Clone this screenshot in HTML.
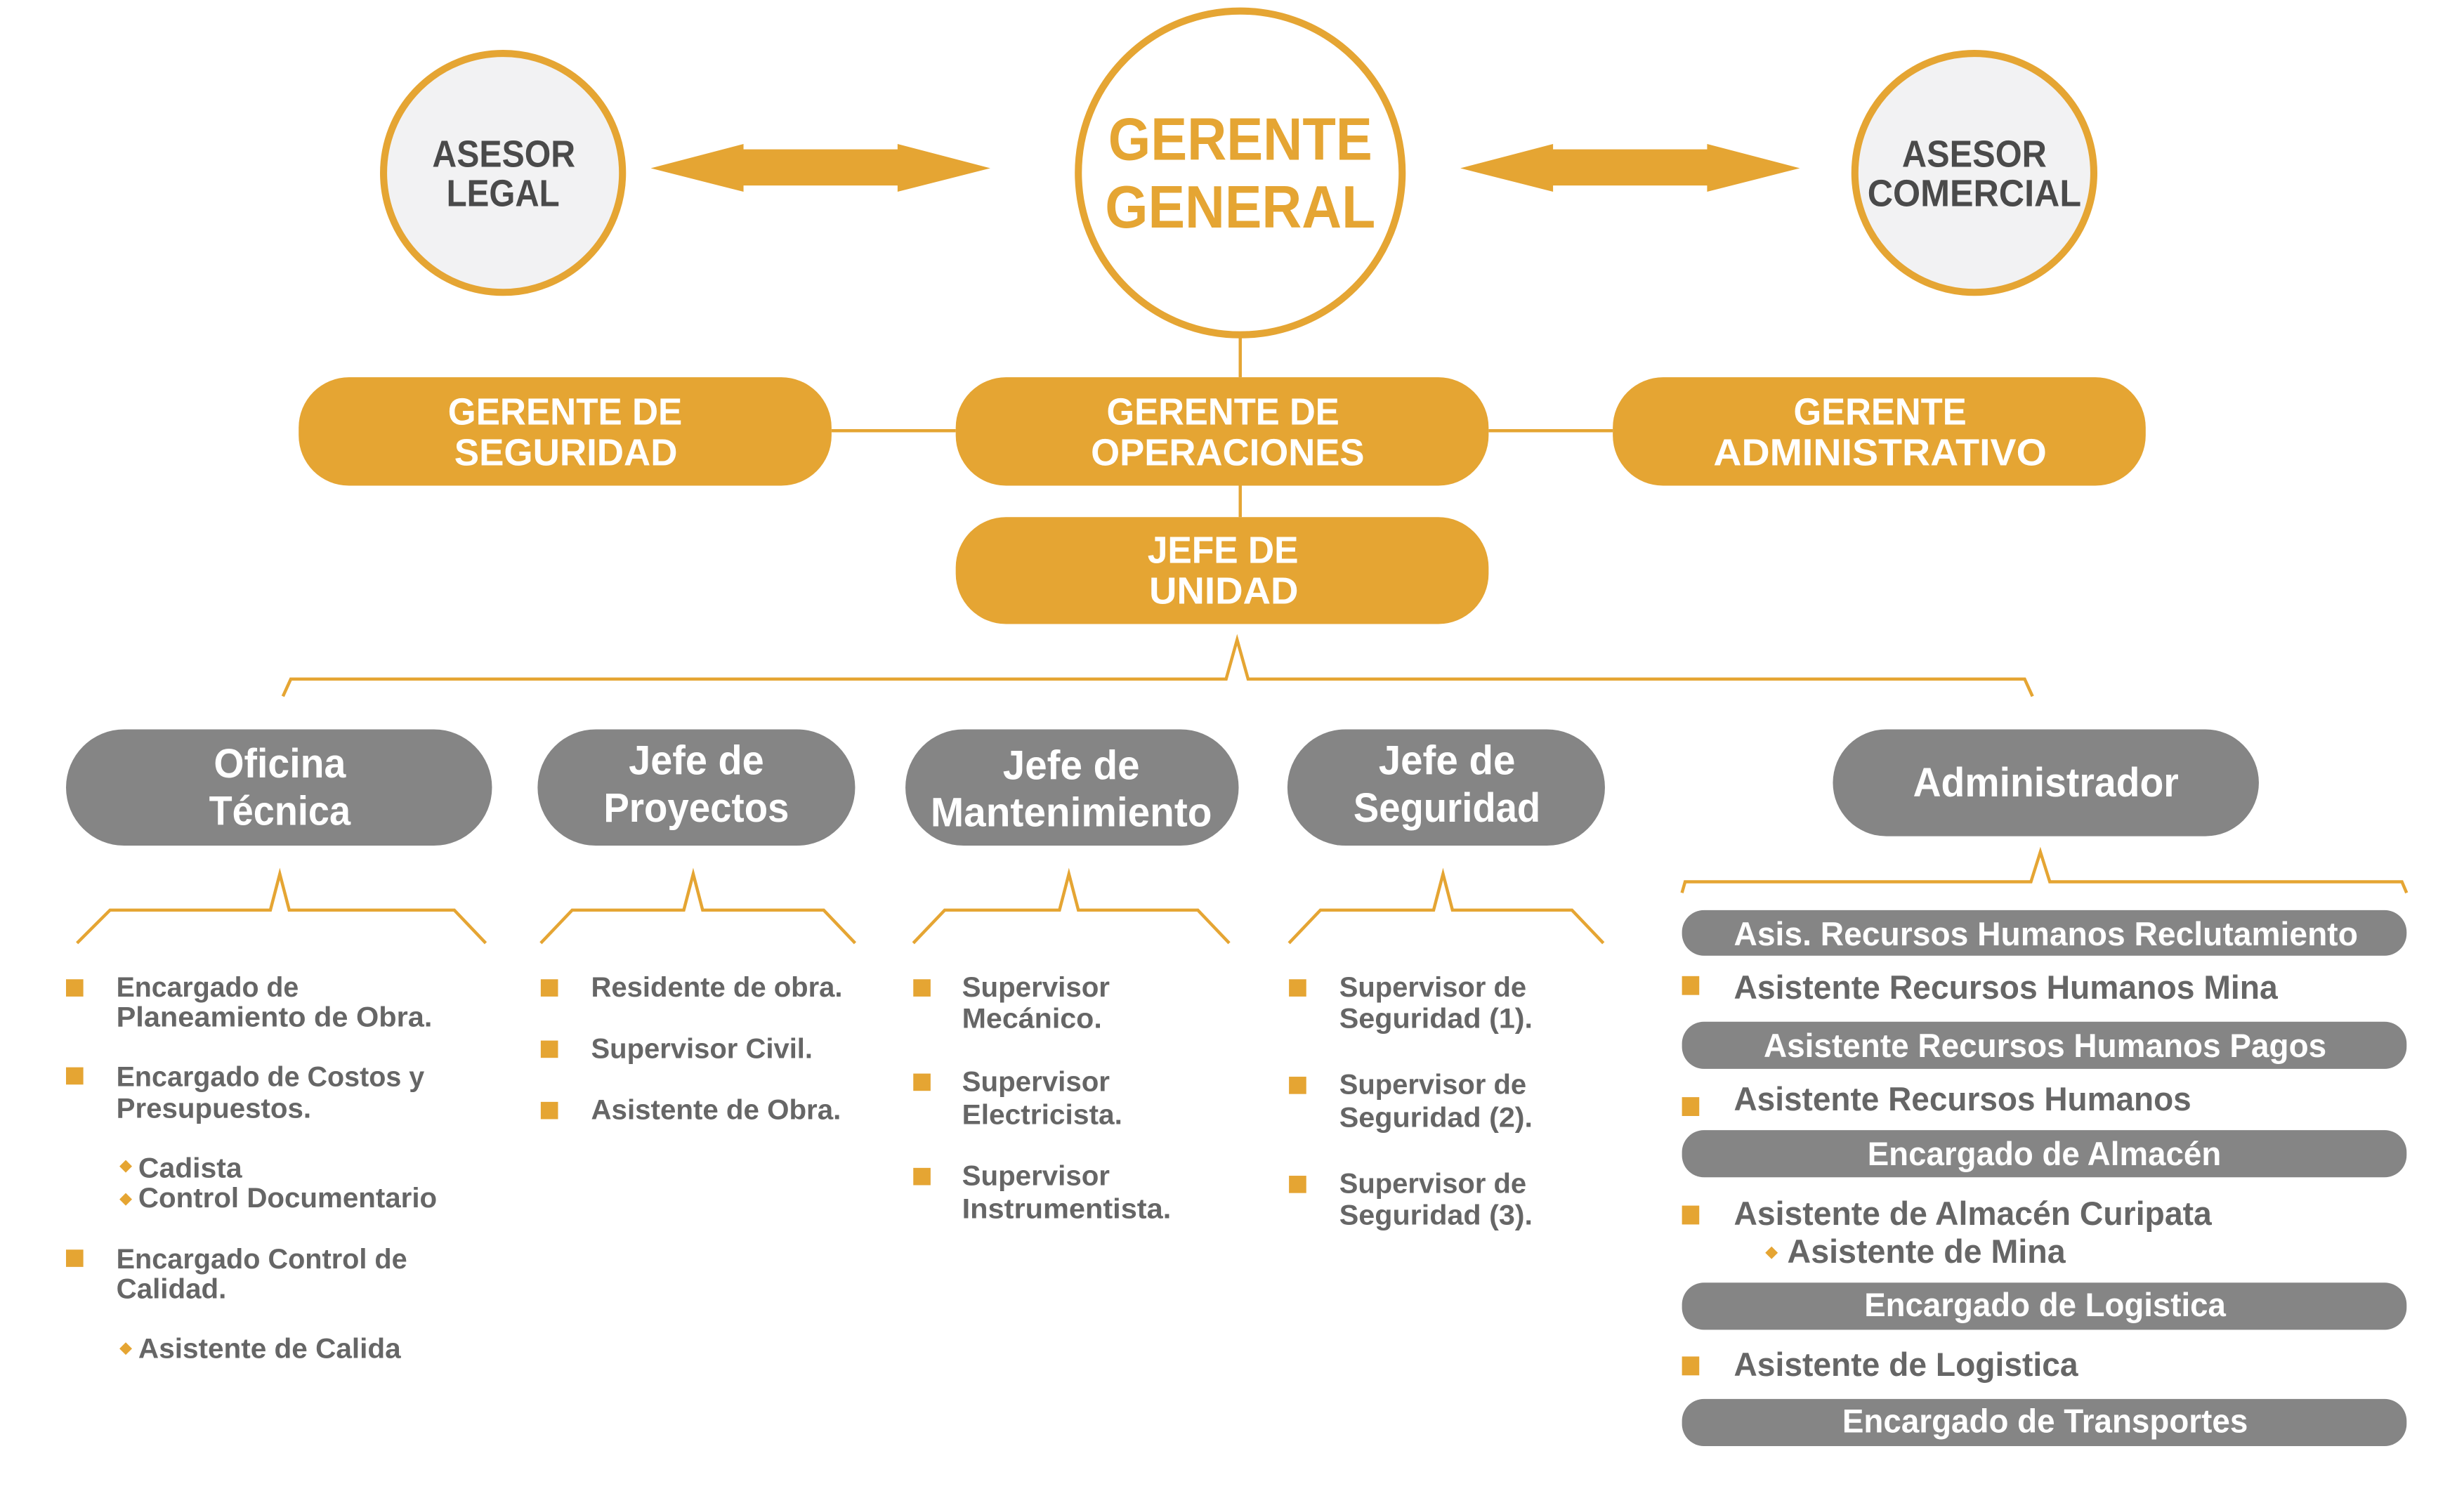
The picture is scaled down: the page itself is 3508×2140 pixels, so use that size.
<!DOCTYPE html>
<html><head><meta charset="utf-8"><style>
html,body{margin:0;padding:0;background:#fff;}
svg{display:block;}
text{font-family:"Liberation Sans",sans-serif;font-weight:bold;dominant-baseline:central;}
.w{fill:#fff;}
.g{fill:#666;}
.o{fill:#e5a533;}
.d{fill:#4a4a4a;}
</style></head><body>
<svg width="3508" height="2140" viewBox="0 0 1567.5 956.2" preserveAspectRatio="none" xmlns="http://www.w3.org/2000/svg">
<g stroke="#e5a533" stroke-width="2" fill="none">
<line x1="789" y1="215" x2="789" y2="240"/>
<line x1="789" y1="309" x2="789" y2="329"/>
<line x1="529" y1="274" x2="608" y2="274"/>
<line x1="947" y1="274" x2="1026" y2="274"/>
<polyline points="180,443 185,432 780,432 787,407 794,432 1288,432 1293,443"/>
<polyline points="49,600 70,579 172,579 178,556 184,579 289,579 309,600"/>
<polyline points="344,600 364,579 435,579 441,556 447,579 524,579 544,600"/>
<polyline points="581,600 601,579 674,579 680,556 686,579 762,579 782,600"/>
<polyline points="820,600 840,579 912,579 918,556 924,579 1000,579 1020,600"/>
<polyline points="1070,568 1072,561 1292,561 1298,542 1304,561 1528,561 1531,568"/>
</g>
<circle cx="320" cy="110" r="76" fill="#f2f2f3" stroke="#e5a533" stroke-width="4.5"/>
<circle cx="789" cy="110" r="103" fill="#fff" stroke="#e5a533" stroke-width="4.5"/>
<circle cx="1256" cy="110" r="76" fill="#f2f2f3" stroke="#e5a533" stroke-width="4.5"/>
<polygon class="o" points="414,107 473,91.6 473,95 571,95 571,91.6 630,107 571,122 571,118 473,118 473,122"/>
<polygon class="o" points="929,107 988,91.6 988,95 1086,95 1086,91.6 1145,107 1086,122 1086,118 988,118 988,122"/>
<text class="d" x="275" y="98" font-size="24" textLength="91" lengthAdjust="spacingAndGlyphs">ASESOR</text>
<text class="d" x="284" y="123" font-size="24" textLength="72" lengthAdjust="spacingAndGlyphs">LEGAL</text>
<text class="d" x="1210" y="98" font-size="24" textLength="92" lengthAdjust="spacingAndGlyphs">ASESOR</text>
<text class="d" x="1188" y="123" font-size="24" textLength="136" lengthAdjust="spacingAndGlyphs">COMERCIAL</text>
<text class="o" x="705" y="89" font-size="38" textLength="168" lengthAdjust="spacingAndGlyphs">GERENTE</text>
<text class="o" x="703" y="132" font-size="38" textLength="172" lengthAdjust="spacingAndGlyphs">GENERAL</text>
<g fill="#e5a533">
<rect x="190" y="240" width="339" height="69" rx="32"/>
<rect x="608" y="240" width="339" height="69" rx="32"/>
<rect x="1026" y="240" width="339" height="69" rx="32"/>
<rect x="608" y="329" width="339" height="68" rx="32"/>
</g>
<text class="w" x="285" y="262" font-size="24" textLength="149" lengthAdjust="spacingAndGlyphs">GERENTE DE</text>
<text class="w" x="289" y="288" font-size="24" textLength="142" lengthAdjust="spacingAndGlyphs">SEGURIDAD</text>
<text class="w" x="704" y="262" font-size="24" textLength="148" lengthAdjust="spacingAndGlyphs">GERENTE DE</text>
<text class="w" x="694" y="288" font-size="24" textLength="174" lengthAdjust="spacingAndGlyphs">OPERACIONES</text>
<text class="w" x="1141" y="262" font-size="24" textLength="110" lengthAdjust="spacingAndGlyphs">GERENTE</text>
<text class="w" x="1090" y="288" font-size="24" textLength="212" lengthAdjust="spacingAndGlyphs">ADMINISTRATIVO</text>
<text class="w" x="730" y="350" font-size="24" textLength="96" lengthAdjust="spacingAndGlyphs">JEFE DE</text>
<text class="w" x="731" y="376" font-size="24" textLength="95" lengthAdjust="spacingAndGlyphs">UNIDAD</text>
<g fill="#858585">
<rect x="42" y="464" width="271" height="74" rx="37"/>
<rect x="342" y="464" width="202" height="74" rx="37"/>
<rect x="576" y="464" width="212" height="74" rx="37"/>
<rect x="819" y="464" width="202" height="74" rx="37"/>
<rect x="1166" y="464" width="271" height="68" rx="34"/>
<rect x="1070" y="579" width="461" height="29" rx="14"/>
<rect x="1070" y="650" width="461" height="30" rx="14"/>
<rect x="1070" y="719" width="461" height="30" rx="14"/>
<rect x="1070" y="816" width="461" height="30" rx="14"/>
<rect x="1070" y="890" width="461" height="30" rx="14"/>
</g>
<text class="w" x="136" y="486" font-size="26" textLength="84" lengthAdjust="spacingAndGlyphs">Oficina</text>
<text class="w" x="133" y="516" font-size="26" textLength="90" lengthAdjust="spacingAndGlyphs">Técnica</text>
<text class="w" x="400" y="484" font-size="26" textLength="86" lengthAdjust="spacingAndGlyphs">Jefe de</text>
<text class="w" x="384" y="514" font-size="26" textLength="118" lengthAdjust="spacingAndGlyphs">Proyectos</text>
<text class="w" x="638" y="487" font-size="26" textLength="87" lengthAdjust="spacingAndGlyphs">Jefe de</text>
<text class="w" x="592" y="517" font-size="26" textLength="179" lengthAdjust="spacingAndGlyphs">Mantenimiento</text>
<text class="w" x="877" y="484" font-size="26" textLength="87" lengthAdjust="spacingAndGlyphs">Jefe de</text>
<text class="w" x="861" y="514" font-size="26" textLength="119" lengthAdjust="spacingAndGlyphs">Seguridad</text>
<text class="w" x="1217" y="498" font-size="26" textLength="169" lengthAdjust="spacingAndGlyphs">Administrador</text>
<g fill="#e5a533">
<rect x="42" y="623" width="11" height="11"/><rect x="42" y="679" width="11" height="11"/><rect x="42" y="795" width="11" height="11"/>
<rect x="344" y="623" width="11" height="11"/><rect x="344" y="662" width="11" height="11"/><rect x="344" y="701" width="11" height="11"/>
<rect x="581" y="623" width="11" height="11"/><rect x="581" y="683" width="11" height="11"/><rect x="581" y="743" width="11" height="11"/>
<rect x="820" y="623" width="11" height="11"/><rect x="820" y="685" width="11" height="11"/><rect x="820" y="748" width="11" height="11"/>
<rect x="1070" y="621" width="11" height="12"/><rect x="1070" y="698" width="11" height="12"/><rect x="1070" y="767" width="11" height="12"/><rect x="1070" y="863" width="11" height="12"/>
<polygon points="80,738 84,742 80,746 76,742"/><polygon points="80,759 84,763 80,767 76,763"/><polygon points="80,854 84,858 80,862 76,858"/>
<polygon points="1127,793 1131,797 1127,801 1123,797"/>
</g>
<g font-size="18">
<text class="g" x="74" y="628" textLength="116" lengthAdjust="spacingAndGlyphs">Encargado de</text>
<text class="g" x="74" y="647" textLength="201" lengthAdjust="spacingAndGlyphs">Planeamiento  de Obra.</text>
<text class="g" x="74" y="685" textLength="196" lengthAdjust="spacingAndGlyphs">Encargado de Costos y</text>
<text class="g" x="74" y="705" textLength="124" lengthAdjust="spacingAndGlyphs">Presupuestos.</text>
<text class="g" x="88" y="743" textLength="66" lengthAdjust="spacingAndGlyphs">Cadista</text>
<text class="g" x="88" y="762" textLength="190" lengthAdjust="spacingAndGlyphs">Control Documentario</text>
<text class="g" x="74" y="801" textLength="185" lengthAdjust="spacingAndGlyphs">Encargado Control de</text>
<text class="g" x="74" y="820" textLength="70" lengthAdjust="spacingAndGlyphs">Calidad.</text>
<text class="g" x="88" y="858" textLength="167" lengthAdjust="spacingAndGlyphs">Asistente de Calida</text>
<text class="g" x="376" y="628" textLength="160" lengthAdjust="spacingAndGlyphs">Residente de obra.</text>
<text class="g" x="376" y="667" textLength="141" lengthAdjust="spacingAndGlyphs">Supervisor Civil.</text>
<text class="g" x="376" y="706" textLength="159" lengthAdjust="spacingAndGlyphs">Asistente de Obra.</text>
<text class="g" x="612" y="628" textLength="94" lengthAdjust="spacingAndGlyphs">Supervisor</text>
<text class="g" x="612" y="648" textLength="89" lengthAdjust="spacingAndGlyphs">Mecánico.</text>
<text class="g" x="612" y="688" textLength="94" lengthAdjust="spacingAndGlyphs">Supervisor</text>
<text class="g" x="612" y="709" textLength="102" lengthAdjust="spacingAndGlyphs">Electricista.</text>
<text class="g" x="612" y="748" textLength="94" lengthAdjust="spacingAndGlyphs">Supervisor</text>
<text class="g" x="612" y="769" textLength="133" lengthAdjust="spacingAndGlyphs">Instrumentista.</text>
<text class="g" x="852" y="628" textLength="119" lengthAdjust="spacingAndGlyphs">Supervisor de</text>
<text class="g" x="852" y="648" textLength="123" lengthAdjust="spacingAndGlyphs">Seguridad (1).</text>
<text class="g" x="852" y="690" textLength="119" lengthAdjust="spacingAndGlyphs">Supervisor de</text>
<text class="g" x="852" y="711" textLength="123" lengthAdjust="spacingAndGlyphs">Seguridad (2).</text>
<text class="g" x="852" y="753" textLength="119" lengthAdjust="spacingAndGlyphs">Supervisor de</text>
<text class="g" x="852" y="773" textLength="123" lengthAdjust="spacingAndGlyphs">Seguridad (3).</text>
</g>
<g font-size="21">
<text class="w" x="1103" y="594" textLength="397" lengthAdjust="spacingAndGlyphs">Asis. Recursos Humanos Reclutamiento</text>
<text class="g" x="1103" y="628" textLength="346" lengthAdjust="spacingAndGlyphs">Asistente Recursos Humanos Mina</text>
<text class="w" x="1122" y="665" textLength="358" lengthAdjust="spacingAndGlyphs">Asistente Recursos Humanos Pagos</text>
<text class="g" x="1103" y="699" textLength="291" lengthAdjust="spacingAndGlyphs">Asistente Recursos Humanos</text>
<text class="w" x="1188" y="734" textLength="225" lengthAdjust="spacingAndGlyphs">Encargado de Almacén</text>
<text class="g" x="1103" y="772" textLength="304" lengthAdjust="spacingAndGlyphs">Asistente de Almacén Curipata</text>
<text class="g" x="1137" y="796" textLength="177" lengthAdjust="spacingAndGlyphs">Asistente de Mina</text>
<text class="w" x="1186" y="830" textLength="230" lengthAdjust="spacingAndGlyphs">Encargado de Logistica</text>
<text class="g" x="1103" y="868" textLength="219" lengthAdjust="spacingAndGlyphs">Asistente de Logistica</text>
<text class="w" x="1172" y="904" textLength="258" lengthAdjust="spacingAndGlyphs">Encargado de Transportes</text>
</g>
</svg>
</body></html>
